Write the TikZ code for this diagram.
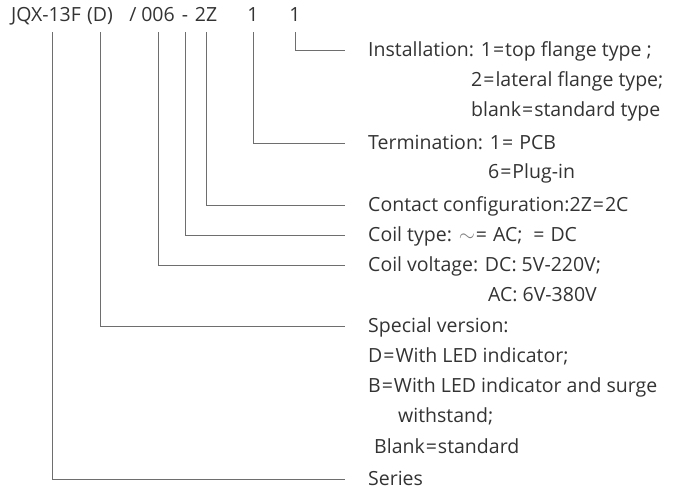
\documentclass[tikz,border=0pt]{standalone}
\usepackage{fontspec}
\setmainfont{Open Sans}
\usetikzlibrary{positioning}
\definecolor{txt}{HTML}{333333}
\definecolor{ln}{HTML}{6E6E6E}
\newcommand{\eqs}{\kern1pt=\kern1pt}

\begin{document}
\begin{tikzpicture}[x=1pt, y=-1pt, every node/.style={font=\fontsize{19.5}{22}\selectfont, text=txt}]
    \tikzset{code/.style={inner sep=0pt, anchor=base},
        lbl/.style={inner sep=0pt, anchor=base west},
        ld/.style={draw=ln, line width=0.8pt}}
    \useasboundingbox (0,0) rectangle (681,490);
    % type code
    \node[code] (cSer) at (46,21) {JQX-13F};
    \node[code] (cVer) at (100,21) {(D)};
    \node[code] (cSl) at (133,21) {/};
    \node[code] (cVol) at (158,21) {006};
    \node[code] (cTyp) at (185,21) {-};
    \node[code] (cCon) at (206,21) {2Z};
    \node[code] (cTer) at (253,21) {1};
    \node[code] (cIns) at (295,21) {1};
    % explanations
    \node[lbl] (lIns) at (368,56) {Installation: 1\eqs top flange type ;};
    \node[lbl] at (471,86) {2\eqs lateral flange type;};
    \node[lbl] at (471,116) {blank\eqs standard type};
    \node[lbl] (lTer) at (368,149) {Termination: 1\eqs\ PCB};
    \node[lbl] at (488,178) {6\eqs Plug-in};
    \node[lbl] (lCon) at (368,211) {Contact configuration:2Z\eqs 2C};
    \node[lbl] (lTyp) at (368,241) {Coil type: \textcolor{gray}{$\sim$}\eqs\ AC;\enspace\eqs\ DC};
    \node[lbl] (lVol) at (368,271) {Coil voltage: DC: 5V-220V;};
    \node[lbl] at (488,301) {AC: 6V-380V};
    \node[lbl] (lVer) at (368,332) {Special version:};
    \node[lbl] at (368,362) {D\eqs With LED indicator;};
    \node[lbl] at (368,392) {B\eqs With LED indicator and surge};
    \node[lbl] at (398,422) {withstand;};
    \node[lbl] at (374,453) {Blank\eqs standard};
    \node[lbl] (lSer) at (368,485) {Series};
    % leaders
    \draw[ld] ([yshift=-11]cIns.base) |- ([xshift=-23,yshift=6]lIns.base west);
    \draw[ld] ([yshift=-11]cTer.base) |- ([xshift=-23,yshift=6]lTer.base west);
    \draw[ld] ([yshift=-11]cCon.base) |- ([xshift=-23,yshift=6]lCon.base west);
    \draw[ld] ([yshift=-11]cTyp.base) |- ([xshift=-23,yshift=6]lTyp.base west);
    \draw[ld] ([yshift=-11]cVol.base) |- ([xshift=-23,yshift=6]lVol.base west);
    \draw[ld] ([yshift=-11]cVer.base) |- ([xshift=-23,yshift=6]lVer.base west);
    \draw[ld] ([xshift=6,yshift=-11]cSer.base) |- ([xshift=-23,yshift=6]lSer.base west);
\end{tikzpicture}
\end{document}
